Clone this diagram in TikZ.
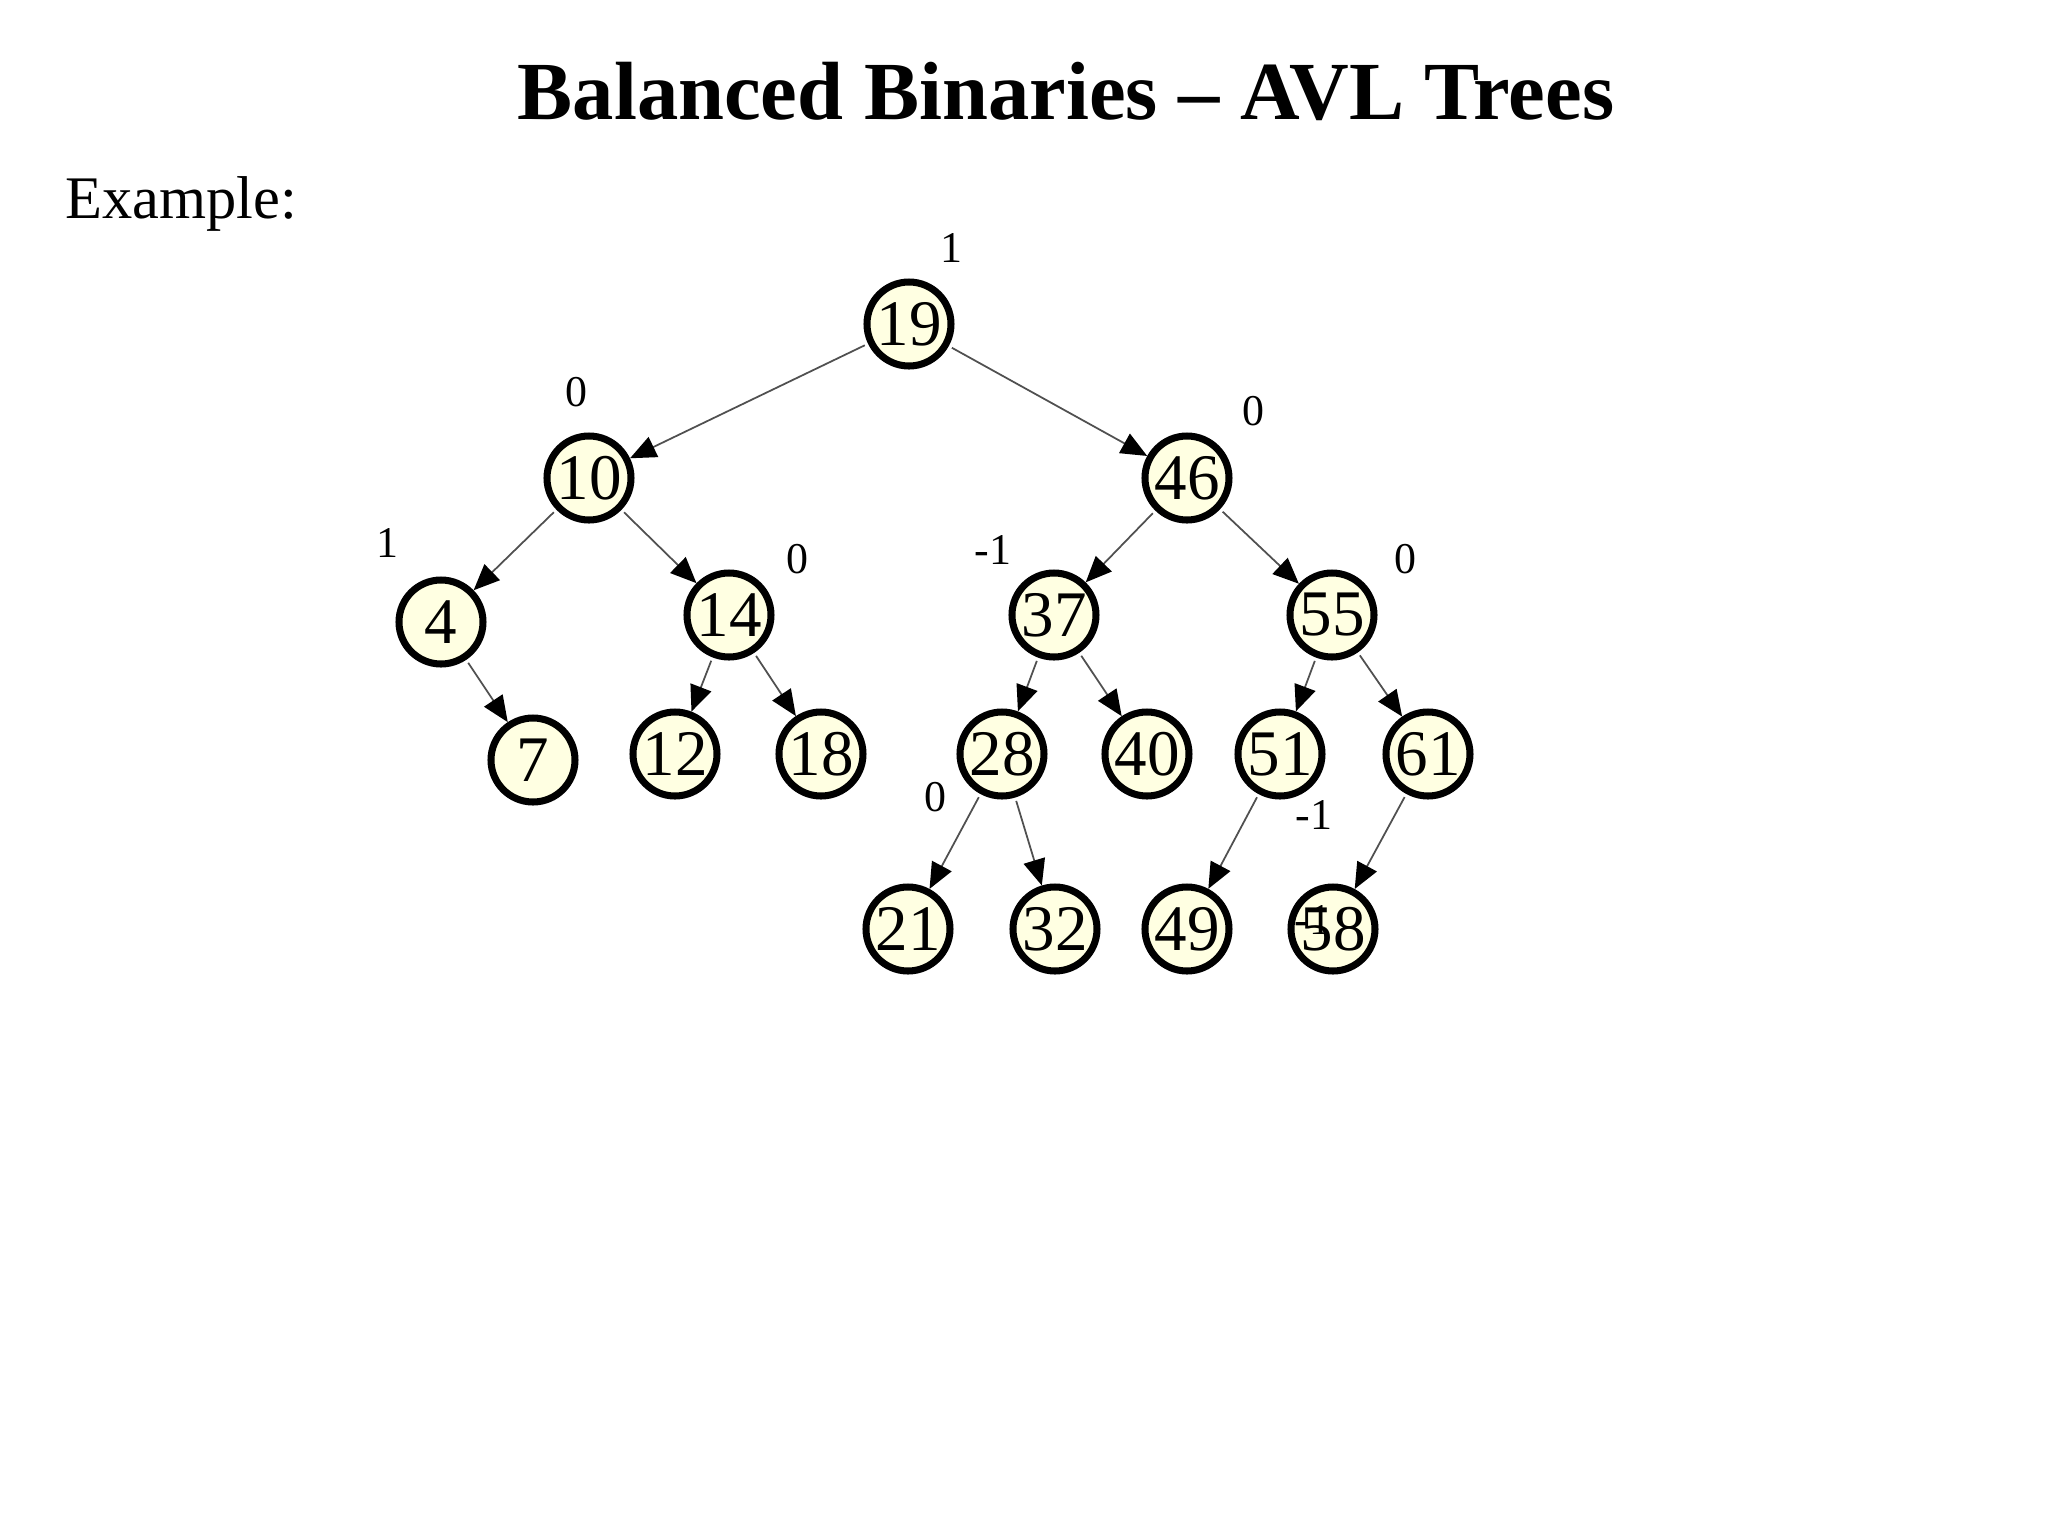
\documentclass[tikz,border=0pt]{standalone}
\usepackage{fontspec}
\setmainfont{Liberation Serif}
\usetikzlibrary{arrows.meta}
\definecolor{nodefill}{RGB}{255,255,226}
\definecolor{edgegray}{RGB}{80,80,80}
\tikzset{
	avl/.style={circle, draw, line width=2pt, fill=nodefill, minimum size=0.84cm, inner sep=0pt, font=\fontsize{18.5}{18}\selectfont},
	bal/.style={font=\fontsize{12.5}{13}\selectfont, inner sep=0pt},
	edge/.style={draw=edgegray, line width=0.5pt, -{Triangle[length=0.26cm,width=0.22cm,color=black]}, shorten <=1pt}
}
\begin{document}
\begin{tikzpicture}
		\useasboundingbox (0,0) rectangle (20.48,-15.35);
		\node (title) at (10.66,-0.91) {\fontsize{23.5}{28}\selectfont\bfseries Balanced Binaries -- AVL Trees};
		\node[anchor=west, inner sep=0pt] (example) at (0.65,-2.04) {\fontsize{17.2}{20}\selectfont Example:};
		% tree
		\node[avl] (n19) at (9.09,-3.24) {19};
		\node[avl] (n10) at (5.89,-4.78) {10};
		\node[avl] (n46) at (11.87,-4.78) {46};
		\node[avl] (n4) at (4.41,-6.22) {4};
		\node[avl] (n14) at (7.29,-6.15) {14};
		\node[avl] (n37) at (10.54,-6.15) {37};
		\node[avl] (n55) at (13.32,-6.15) {55};
		\node[avl] (n7) at (5.33,-7.60) {7};
		\node[avl] (n12) at (6.75,-7.54) {12};
		\node[avl] (n18) at (8.21,-7.54) {18};
		\node[avl] (n28) at (10.02,-7.54) {28};
		\node[avl] (n40) at (11.47,-7.54) {40};
		\node[avl] (n51) at (12.80,-7.54) {51};
		\node[avl] (n61) at (14.28,-7.54) {61};
		\node[avl] (n21) at (9.08,-9.29) {21};
		\node[avl] (n32) at (10.55,-9.29) {32};
		\node[avl] (n49) at (11.87,-9.29) {49};
		\node[avl] (n58) at (13.33,-9.29) {58};
		% edges
		\draw[edge] (n19) -- (n10);
		\draw[edge] (n19) -- (n46);
		\draw[edge] (n10) -- (n4);
		\draw[edge] (n10) -- (n14);
		\draw[edge] (n46) -- (n37);
		\draw[edge] (n46) -- (n55);
		\draw[edge] (n4) -- (n7);
		\draw[edge] (n14) -- (n12);
		\draw[edge] (n14) -- (n18);
		\draw[edge] (n37) -- (n28);
		\draw[edge] (n37) -- (n40);
		\draw[edge] (n55) -- (n51);
		\draw[edge] (n55) -- (n61);
		\draw[edge] (n28) -- (n21);
		\draw[edge] (n28) -- (n32);
		\draw[edge] (n51) -- (n49);
		\draw[edge] (n61) -- (n58);
		% balance factors
		\node[bal] (b19) at (9.51,-2.48) {1};
		\node[bal] (b10) at (5.76,-3.92) {0};
		\node[bal] (b46) at (12.53,-4.11) {0};
		\node[bal] (b4) at (3.87,-5.43) {1};
		\node[bal] (b14) at (7.97,-5.59) {0};
		\node[bal] (b37) at (9.93,-5.50) {-1};
		\node[bal] (b55) at (14.05,-5.59) {0};
		\node[bal] (b28) at (9.35,-7.97) {0};
		\node[bal] (b51) at (13.14,-8.15) {-1};
		\node[bal] (b58) at (13.13,-9.20) {-1};
\end{tikzpicture}
\end{document}
